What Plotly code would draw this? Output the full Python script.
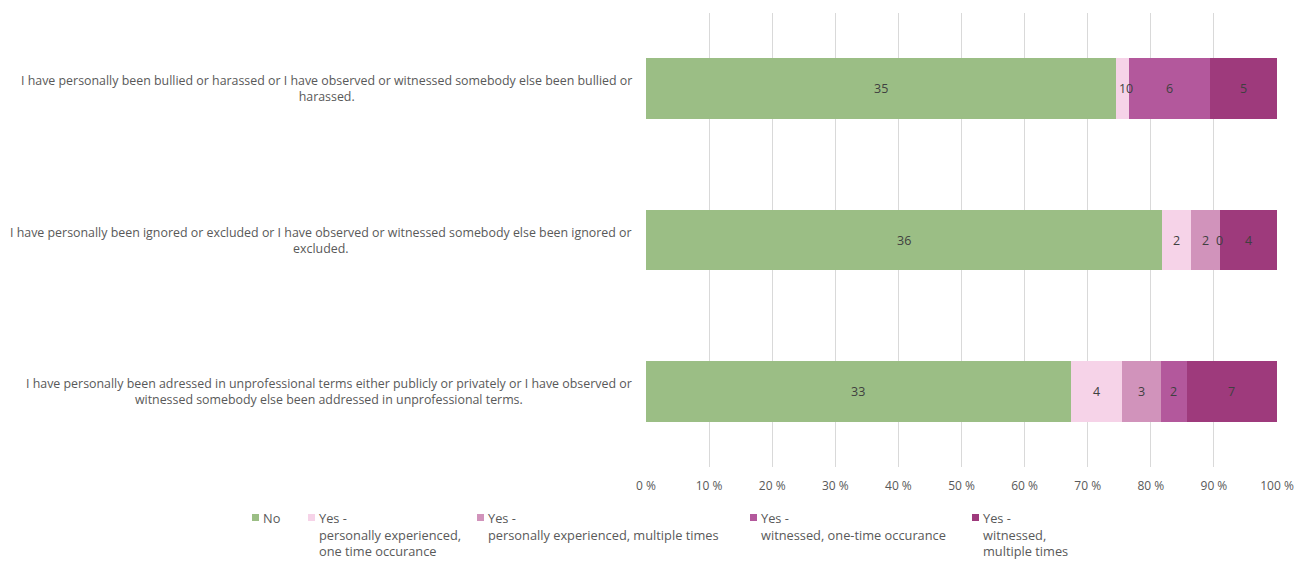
import plotly.graph_objects as go

# Survey statements (top to bottom)
statements = [
    "I have personally been bullied or harassed or I have observed or witnessed somebody else been bullied or<br>harassed.",
    "I have personally been ignored or excluded or I have observed or witnessed somebody else been ignored or<br>excluded.",
    "I have personally been adressed in unprofessional terms either publicly or privately or I have observed or<br>witnessed somebody else been addressed in unprofessional terms.",
]

# Response categories and their legend labels
series_names = [
    "No",
    "Yes -<br>personally experienced,<br>one time occurance",
    "Yes -<br>personally experienced, multiple times",
    "Yes -<br>witnessed, one-time occurance",
    "Yes -<br>witnessed,<br>multiple times",
]
colors = ["#9BBE85", "#F6D3E8", "#D193BB", "#B3589C", "#9E3A7C"]

# Response counts per statement
no_counts = [35, 36, 33]
pe_once = [1, 2, 4]
pe_multi = [0, 2, 3]
wit_once = [6, 0, 2]
wit_multi = [5, 4, 7]

series_counts = [no_counts, pe_once, pe_multi, wit_once, wit_multi]

FONT = "Open Sans"
TXT = "#595959"

totals = [sum(s[i] for s in series_counts) for i in range(len(statements))]
y_keys = list(range(len(statements)))

fig = go.Figure()
annotations = []
cum = [0.0] * len(statements)
for name, counts, col in zip(series_names, series_counts, colors):
    pct = [c / t * 100 for c, t in zip(counts, totals)]
    fig.add_trace(go.Bar(
        y=y_keys, x=pct, orientation="h", name=name,
        marker=dict(color=col, line=dict(width=0)),
        width=0.4, showlegend=False, hoverinfo="skip",
    ))
    # value labels centred in each segment
    for i, (c, p) in enumerate(zip(counts, pct)):
        annotations.append(dict(
            x=cum[i] + p / 2, y=y_keys[i], xref="x", yref="y",
            text=str(c), showarrow=False,
            font=dict(family=FONT, size=12.5, color="#404040"),
        ))
        cum[i] += p

# statement labels, centred text to the left of the plot area
for i, s in enumerate(statements):
    annotations.append(dict(
        x=-0.019, y=y_keys[i], xref="paper", yref="y",
        xanchor="right", yanchor="middle", align="center",
        text=s, showarrow=False,
        font=dict(family=FONT, size=12.4, color=TXT),
    ))

# legend: square swatch plus text, laid out along the bottom
legend_x = [252, 308, 477, 750, 972]
W, H = 1308, 561
L, R, T, B = 646, 31, 13, 94
pw, ph = W - L - R, H - T - B
base = H - B
shapes = []
for lx, name, col in zip(legend_x, series_names, colors):
    shapes.append(dict(type="rect", xref="paper", yref="paper",
                       x0=(lx - L) / pw, x1=(lx + 7 - L) / pw,
                       y0=-(521 - base) / ph, y1=-(514 - base) / ph,
                       fillcolor=col, line=dict(width=0)))
    annotations.append(dict(
        x=(lx + 9 - L) / pw, y=-(507 - base) / ph, xref="paper", yref="paper",
        xanchor="left", yanchor="top", align="left",
        text=name, showarrow=False,
        font=dict(family=FONT, size=12.8, color=TXT),
    ))

fig.update_layout(
    barmode="stack",
    width=W, height=H,
    margin=dict(l=L, r=R, t=T, b=B),
    paper_bgcolor="white", plot_bgcolor="white",
    font=dict(family=FONT, size=12, color=TXT),
    xaxis=dict(
        range=[0, 100], tickvals=list(range(0, 101, 10)),
        ticktext=[f"{v} %" for v in range(0, 101, 10)],
        showgrid=True, gridcolor="#D9D9D9", gridwidth=1,
        zeroline=False, showline=False, ticks="",
        ticklabelstandoff=10,
        tickfont=dict(family=FONT, size=12, color=TXT),
    ),
    yaxis=dict(
        range=[len(statements) - 0.5, -0.5],
        showticklabels=False, showgrid=False, zeroline=False, ticks="",
    ),
    annotations=annotations,
    shapes=shapes,
    showlegend=False,
)

fig.write_html("out.html")
